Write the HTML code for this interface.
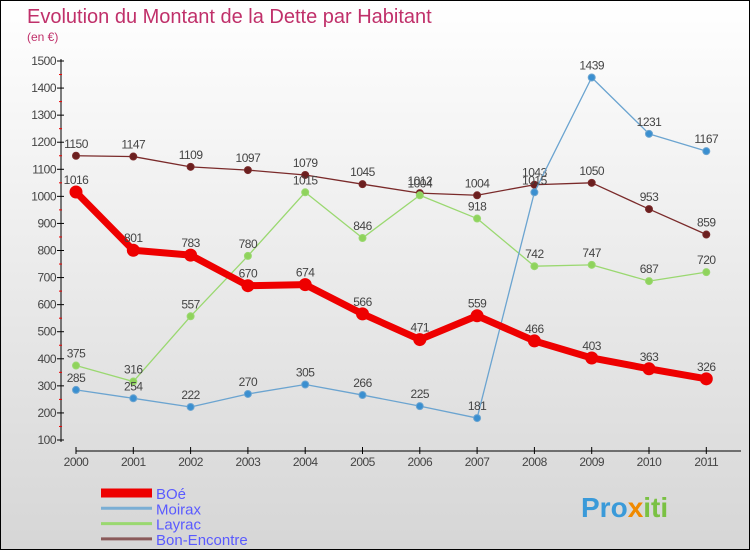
<!DOCTYPE html>
<html><head><meta charset="utf-8">
<style>
body{margin:0;}
#c{width:750px;height:550px;position:relative;box-sizing:border-box;border:1px solid #000;background:linear-gradient(#ffffff,#d6d6d6);font-family:"Liberation Sans",sans-serif;overflow:hidden}
svg{position:absolute;left:0;top:0}
</style></head><body>
<div id="c">
<svg id="s" width="750" height="550">
<text x="26" y="22" font-size="20" fill="#c0306a">Evolution du Montant de la Dette par Habitant</text>
<text x="26" y="40" font-size="12" fill="#c0306a">(en €)</text>
<text x="580" y="516" font-size="28" font-weight="bold" fill="#3a9ad9">Pro<tspan fill="#f08a00">x</tspan><tspan fill="#7ac143">iti</tspan></text>
</svg>
</div>
<script>
const years=["2000","2001","2002","2003","2004","2005","2006","2007","2008","2009","2010","2011"];
const yTicks=[100,200,300,400,500,600,700,800,900,1000,1100,1200,1300,1400,1500];
const boe=[1016,801,783,670,674,566,471,559,466,403,363,326];
const moirax=[285,254,222,270,305,266,225,181,1015,1439,1231,1167];
const layrac=[375,316,557,780,1015,846,1004,918,742,747,687,720];
const bon=[1150,1147,1109,1097,1079,1045,1012,1004,1043,1050,953,859];
const NS="http://www.w3.org/2000/svg";
const s=document.getElementById('s');
const X=i=>75+i*57.3;
const Y=v=>439-(v-100)*(379/1400);
function mk(t,a,p){const e=document.createElementNS(NS,t);for(const k in a)e.setAttribute(k,a[k]);(p||s).appendChild(e);return e;}
// axes
const ya=mk('line',{x1:60,y1:58,x2:60,y2:441,stroke:'#000','stroke-width':1});


const xa=mk('line',{x1:75,y1:450,x2:740,y2:450,stroke:'#000','stroke-width':1});


yTicks.forEach(v=>{
 mk('line',{x1:56,x2:63,y1:Y(v),y2:Y(v),stroke:'#000'});
 if(v<1500) mk('line',{x1:58,x2:61,y1:Y(v+50),y2:Y(v+50),stroke:'#e00'});
 const t=mk('text',{x:55,y:Y(v)+4,'font-size':12,fill:'#444','text-anchor':'end','letter-spacing':'-0.5'});
 t.textContent=v;
 
 
});
years.forEach((y,i)=>{
 mk('line',{x1:X(i),x2:X(i),y1:446,y2:453,stroke:'#000'});
 const t=mk('text',{x:X(i),y:465,'font-size':12,fill:'#444','text-anchor':'middle','letter-spacing':'-0.5'});
 t.textContent=y;
 
 
});
function series(data,color,dot,w,r,name,labelAbove){
 const g=mk('g',{});
 
 
 mk('polyline',{points:data.map((v,i)=>X(i)+','+Y(v)).join(' '),fill:'none',stroke:color,'stroke-width':w,'stroke-linejoin':'round'},g);
 data.forEach((v,i)=>{
  const c=mk('circle',{cx:X(i),cy:Y(v),r:r,fill:dot,stroke:color,'stroke-width':1},g);
  
  
  const t=mk('text',{x:X(i),y:Y(v)-8,'font-size':12,fill:'#444','text-anchor':'middle','letter-spacing':'-0.5'},g);
  t.textContent=v;
  
  
 });
}
series(bon,'#7a2a2a','#6b1f1f',1.3,3.5,'bon-encontre');
series(layrac,'#9ad870','#8fd35c',1.3,3.5,'layrac');
series(moirax,'#6ba4d0','#3a8fd0',1.3,3.5,'moirax');
series(boe,'#ee0000','#ee0000',7,6,'boe');
const leg=[['BOé','#ee0000',9],['Moirax','#7aaed4',3],['Layrac','#9ad870',3],['Bon-Encontre','#8a5a5a',3]];
leg.forEach((l,i)=>{
 const y=492+i*15.3;
 const g=mk('g',{});
 
 
 mk('line',{x1:100,x2:151,y1:y,y2:y,stroke:l[1],'stroke-width':l[2]},g);
 const t=mk('text',{x:155,y:y+6,'font-size':15,fill:'#5a5aff'},g);
 t.textContent=l[0];
});
</script>
</body></html>
